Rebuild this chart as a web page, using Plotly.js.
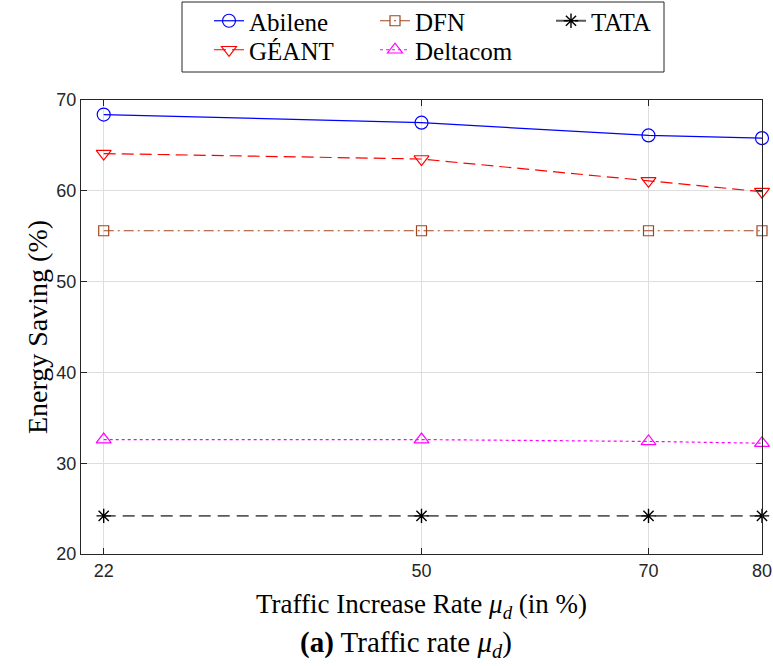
<!DOCTYPE html>
<html>
<head>
<meta charset="utf-8">
<script src="https://cdn.plot.ly/plotly-3.0.1.min.js"></script>
<style>html,body{margin:0;padding:0;background:#fff;}#chart{width:773px;height:666px;}</style>
</head>
<body>
<div id="chart"></div>
<script>
// Data
const trafficRate = [22, 50, 70, 80];
const abilene  = [68.4, 67.5, 66.1, 65.8];
const geant    = [64.1, 63.5, 61.1, 59.9];
const dfn      = [55.6, 55.6, 55.6, 55.6];
const deltacom = [32.6, 32.6, 32.4, 32.2];
const tata     = [24.2, 24.2, 24.2, 24.2];
const xTicks = [22, 50, 70, 80];
const yTicks = [20, 30, 40, 50, 60, 70];

const serif = "Liberation Serif, Times New Roman, serif";
const sans = "Liberation Sans, Arial, Helvetica, sans-serif";

const traces = [
  {x: trafficRate, y: abilene, name: "Abilene", legend: "legend", mode: "lines+markers", cliponaxis: false,
   line: {color: "#0000ff", width: 1.2},
   marker: {symbol: "circle-open", size: 13, color: "#0000ff", line: {width: 1.2, color: "#0000ff"}}},
  {x: trafficRate, y: geant, name: "GÉANT", legend: "legend4", mode: "lines+markers", cliponaxis: false,
   line: {color: "#ff0000", width: 1.2, dash: "12px,6px"},
   marker: {symbol: "triangle-down-open", size: 13, color: "#ff0000", line: {width: 1.2, color: "#ff0000"}}},
  {x: trafficRate, y: dfn, name: "DFN", legend: "legend2", mode: "lines+markers", cliponaxis: false,
   line: {color: "#a0461e", width: 1.2, dash: "10px,4px,2px,4px"},
   marker: {symbol: "square-open", size: 10, color: "#a0461e", line: {width: 1.2, color: "#a0461e"}}},
  {x: trafficRate, y: deltacom, name: "Deltacom", legend: "legend5", mode: "lines+markers", cliponaxis: false,
   line: {color: "#ff00ff", width: 1.2, dash: "dot"},
   marker: {symbol: "triangle-up-open", size: 13, color: "#ff00ff", line: {width: 1.2, color: "#ff00ff"}}},
  {x: trafficRate, y: tata, name: "TATA", legend: "legend3", mode: "lines+markers", cliponaxis: false,
   line: {color: "#5a5a5a", width: 1.8, dash: "12px,7px"},
   marker: {symbol: "asterisk-open", size: 12, color: "#000000", line: {width: 1.4, color: "#000000"}}}
];

const py = p => (554 - p) / 454;
const px = p => (p - 81) / 681;
const legendCommon = {
  orientation: "v", xref: "paper", yref: "paper", yanchor: "top", xanchor: "left",
  bgcolor: "rgba(0,0,0,0)", borderwidth: 0, font: {family: serif, size: 25, color: "#000"},
  tracegroupgap: 0, itemwidth: 30
};
const row1 = py(-2), row2 = py(27);

const layout = {
  width: 773, height: 666,
  margin: {l: 81, r: 11, t: 100, b: 112, autoexpand: false},
  paper_bgcolor: "#fff", plot_bgcolor: "#fff",
  showlegend: true,
  legend:  Object.assign({}, legendCommon, {x: px(209), y: row1}),
  legend2: Object.assign({}, legendCommon, {x: px(375), y: row1}),
  legend3: Object.assign({}, legendCommon, {x: px(551), y: row1}),
  legend4: Object.assign({}, legendCommon, {x: px(209), y: row2}),
  legend5: Object.assign({}, legendCommon, {x: px(375), y: row2}),
  xaxis: {
    range: [20, 80], tickvals: xTicks, ticktext: xTicks.map(String),
    showgrid: true, gridcolor: "#dedede", gridwidth: 1, zeroline: false,
    showline: true, linecolor: "#262626", linewidth: 1, mirror: "ticks",
    ticks: "inside", ticklen: 6, tickcolor: "#262626", automargin: false,
    tickfont: {family: sans, size: 18, color: "#262626"},
    title: {text: "Traffic Increase Rate <i>μ<sub>d</sub></i> (in %)", font: {family: serif, size: 27, color: "#000"}, standoff: 14}
  },
  yaxis: {
    range: [20, 70], tickvals: yTicks,
    showgrid: true, gridcolor: "#dedede", gridwidth: 1, zeroline: false,
    showline: true, linecolor: "#262626", linewidth: 1, mirror: "ticks",
    ticks: "inside", ticklen: 6, tickcolor: "#262626", automargin: false,
    tickfont: {family: sans, size: 18, color: "#262626"},
    title: {text: "Energy Saving (%)", font: {family: serif, size: 28, color: "#000"}, standoff: 0}
  },
  shapes: [
    {type: "rect", xref: "paper", yref: "paper",
     x0: px(182), x1: px(664), y0: py(72), y1: py(2),
     line: {color: "#262626", width: 1}, fillcolor: "#ffffff", layer: "below"}
  ],
  annotations: [
    {xref: "paper", yref: "paper", x: px(406), y: py(644),
     xanchor: "center", yanchor: "middle", showarrow: false,
     text: "<b>(a)</b> Traffic rate <i>μ<sub>d</sub></i>)",
     font: {family: serif, size: 29, color: "#000"}}
  ]
};

Plotly.newPlot("chart", traces, layout, {displayModeBar: false, staticPlot: true});
</script>
</body>
</html>
